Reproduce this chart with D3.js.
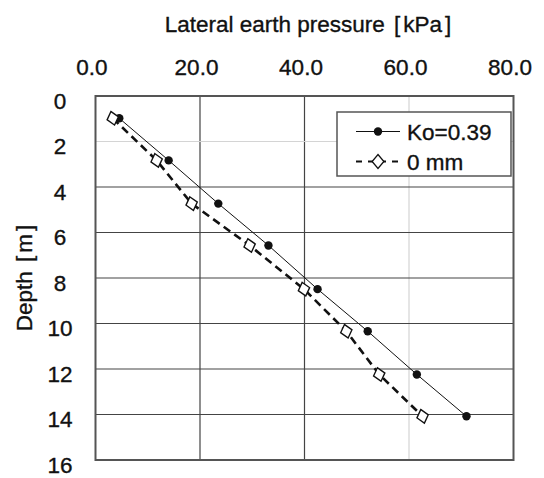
<!DOCTYPE html>
<html><head><meta charset="utf-8">
<script src="https://cdn.jsdelivr.net/npm/d3@7"></script>
<style>
html,body{margin:0;padding:0;background:#fff;}
svg{display:block;}
text{font-family:"Liberation Sans",Arial,Helvetica,sans-serif;fill:#111;stroke:#111;stroke-width:0.35px;}
</style></head>
<body>
<svg id="c" width="544" height="478"></svg>
<script>
const depths = [0.98, 2.83, 4.73, 6.57, 8.49, 10.34, 12.24, 14.08];
const ko039 = [4.55, 14.0, 23.5, 33.1, 42.5, 52.1, 61.5, 71.0];
const mm0 = [3.3, 11.7, 18.4, 29.5, 39.9, 48.0, 54.3, 62.6];
const xTicks = [0, 20, 40, 60, 80];
const yTicks = [0, 2, 4, 6, 8, 10, 12, 14, 16];
const seriesNames = ["Ko=0.39", "0 mm"];
const xTitleParts = ["Lateral earth pressure ", "[", "kPa", "]"];
const yTitleParts = ["Depth ", "[", "m", "]"];

const FS = 22.5;
const svg = d3.select("#c");
const L = 95.5, R = 513.5, T = 96, B = 460;
const x = d3.scaleLinear().domain([0, 80]).range([L, R]);
const y = d3.scaleLinear().domain([0, 16]).range([T, B]);

// gridlines
const g = svg.append("g");
g.selectAll("line.v").data(xTicks.slice(1, -1)).enter().append("line")
  .attr("x1", d => x(d)).attr("x2", d => x(d)).attr("y1", T).attr("y2", B)
  .attr("stroke", d => d === 60 ? "#d4d4d4" : "#444").attr("stroke-width", 1.2);
g.selectAll("line.h").data(yTicks.slice(1, -1)).enter().append("line")
  .attr("y1", d => y(d)).attr("y2", d => y(d)).attr("x1", L).attr("x2", R)
  .attr("stroke", d => d === 2 ? "#d4d4d4" : "#444").attr("stroke-width", 1.2);

// frame
svg.append("rect").attr("x", L).attr("y", T).attr("width", R - L).attr("height", B - T)
  .attr("fill", "none").attr("stroke", "#555").attr("stroke-width", 2);

// axes labels via d3 axes
const xAxis = d3.axisTop(x).tickValues(xTicks).tickFormat(d3.format(".1f")).tickSize(0).tickPadding(0);
const xa = svg.append("g").attr("transform", `translate(-4,75)`).call(xAxis);
xa.select(".domain").remove();
xa.selectAll("text").attr("font-size", FS).attr("fill", "#111")
  .attr("font-family", '"Liberation Sans",Arial,sans-serif');

const yAxis = d3.axisLeft(y).tickValues(yTicks).tickFormat(d3.format("d")).tickSize(0).tickPadding(0);
const ya = svg.append("g").attr("transform", `translate(60,5)`).call(yAxis);
ya.select(".domain").remove();
ya.selectAll("text").attr("font-size", FS).attr("fill", "#111").attr("text-anchor", "middle")
  .attr("font-family", '"Liberation Sans",Arial,sans-serif');

function titled(sel, parts) {
  sel.append("tspan").text(parts[0]);
  sel.append("tspan").attr("dx", 3).text(parts[1]);
  sel.append("tspan").attr("dx", 3).text(parts[2]);
  sel.append("tspan").attr("dx", 3).text(parts[3]);
}
const xt = svg.append("text").attr("x", 308).attr("y", 32).attr("text-anchor", "middle")
  .attr("font-size", FS);
titled(xt, xTitleParts);
const yt = svg.append("text").attr("transform", "translate(32,278) rotate(-90)").attr("text-anchor", "middle")
  .attr("font-size", FS);
titled(yt, yTitleParts);

// series
const line = d3.line();
const pts1 = depths.map((d, i) => [x(ko039[i]), y(d)]);
const pts2 = depths.map((d, i) => [x(mm0[i]), y(d)]);
svg.append("path").attr("d", line(pts1)).attr("fill", "none").attr("stroke", "#111").attr("stroke-width", 1);
svg.append("path").attr("d", line(pts2)).attr("fill", "none").attr("stroke", "#111").attr("stroke-width", 2.6)
  .attr("stroke-dasharray", "8,5");
svg.selectAll("circle.k").data(pts1).enter().append("circle")
  .attr("cx", d => d[0]).attr("cy", d => d[1]).attr("r", 4.2).attr("fill", "#111");
const diamond = d3.symbol().type(d3.symbolDiamond).size(70);
svg.selectAll("path.m").data(pts2).enter().append("path")
  .attr("d", diamond).attr("transform", d => `translate(${d[0]},${d[1]}) rotate(-15) scale(1.3,0.9)`)
  .attr("fill", "#fff").attr("stroke", "#111").attr("stroke-width", 1.2);

// legend
const lg = svg.append("g");
lg.append("rect").attr("x", 337).attr("y", 112).attr("width", 174).attr("height", 64)
  .attr("fill", "#fff").attr("stroke", "#555").attr("stroke-width", 1.5);
lg.append("line").attr("x1", 356).attr("x2", 400).attr("y1", 131.5).attr("y2", 131.5).attr("stroke", "#111").attr("stroke-width", 1);
lg.append("circle").attr("cx", 378).attr("cy", 131.5).attr("r", 4.2).attr("fill", "#111");
lg.append("line").attr("x1", 356).attr("x2", 400).attr("y1", 161.5).attr("y2", 161.5).attr("stroke", "#111")
  .attr("stroke-width", 2).attr("stroke-dasharray", "6,6").attr("stroke-dashoffset", 0);
lg.append("path").attr("d", diamond).attr("transform", "translate(378,161.5) scale(1.3,0.9)")
  .attr("fill", "#fff").attr("stroke", "#111").attr("stroke-width", 1.2);
lg.selectAll("text").data(seriesNames).enter().append("text")
  .attr("x", 407).attr("y", (d, i) => 139.5 + i * 30).attr("font-size", FS).text(d => d);
</script>
</body></html>
